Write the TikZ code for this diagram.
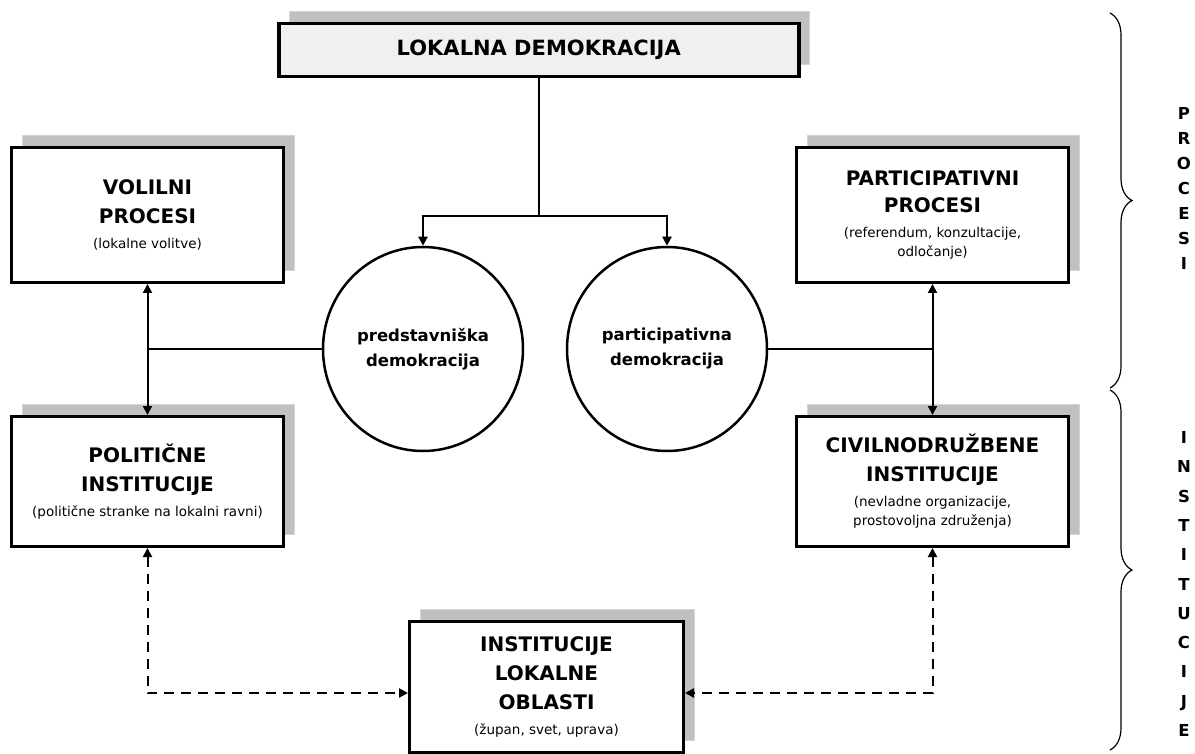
\documentclass[tikz,border=0pt]{standalone}
\usepackage{fontspec}
\setmainfont{DejaVu Sans}
\usetikzlibrary{arrows.meta,shapes.geometric,shadows,decorations.pathreplacing,calc}
\definecolor{shadowfill}{HTML}{C0C0C0}
\definecolor{shadowedge}{HTML}{D4D4D4}
\definecolor{titlefill}{HTML}{F0F0F0}
\newcommand{\boxhead}[1]{{\fontsize{20}{29}\selectfont\bfseries #1}}
\newcommand{\boxnote}[1]{{\fontsize{13.5}{19}\selectfont #1}}

\begin{document}
\begin{tikzpicture}[x=1pt,y=-1pt,
  dropshadow/.style={general shadow={shadow xshift=11pt, shadow yshift=12pt,
      fill=shadowfill, draw=shadowedge, line width=1pt}},
  panel/.style={rectangle, draw=black, line width=3pt, fill=white, dropshadow,
      inner sep=0pt, anchor=north west, align=center,
      font=\fontsize{20}{29}\selectfont},
  circ/.style={ellipse, draw=black, line width=2.5pt, fill=white,
      minimum width=200pt, minimum height=204pt, inner sep=0pt, align=center,
      font=\fontsize{16.5}{25}\selectfont\bfseries},
  wire/.style={line width=2pt},
  arr/.style={wire, -{Triangle[length=9pt,width=9pt]}},
  darr/.style={wire, {Triangle[length=9pt,width=9pt]}-{Triangle[length=9pt,width=9pt]}},
  dashline/.style={dash pattern=on 10pt off 7pt},
  brace/.style={decorate, decoration={brace, amplitude=22pt}, line width=1.2pt},
  side/.style={font=\fontsize{16.5}{25}\selectfont\bfseries, align=center}
]
\fill[white] (0,0) rectangle (1195,754);
\useasboundingbox (0,0) rectangle (1195,754);

% title
\node[panel, fill=titlefill, line width=3.5pt, minimum width=520pt, minimum height=53pt,
      font=\fontsize{21}{25}\selectfont\bfseries] (top) at (277,22) {LOKALNA DEMOKRACIJA};

% process boxes
\node[panel, minimum width=272pt, minimum height=135pt] (vol) at (10,146)
  {\boxhead{VOLILNI}\\\boxhead{PROCESI}\\[-4pt]\boxnote{(lokalne volitve)}};
\node[panel, minimum width=272pt, minimum height=135pt] (pp) at (795,146)
  {\boxhead{PARTICIPATIVNI}\\[-2pt]\boxhead{PROCESI}\\[-4pt]\boxnote{(referendum, konzultacije,}\\[-10pt]\boxnote{odločanje)}};

% institution boxes
\node[panel, minimum width=272pt, minimum height=130pt] (pol) at (10,415)
  {\boxhead{POLITIČNE}\\\boxhead{INSTITUCIJE}\\[-4pt]\boxnote{(politične stranke na lokalni ravni)}};
\node[panel, minimum width=272pt, minimum height=130pt] (civ) at (795,415)
  {\boxhead{CIVILNODRUŽBENE}\\\boxhead{INSTITUCIJE}\\[-4pt]\boxnote{(nevladne organizacije,}\\[-10pt]\boxnote{prostovoljna združenja)}};
\node[panel, minimum width=274pt, minimum height=131pt] (inst) at (408,620)
  {\boxhead{INSTITUCIJE}\\\boxhead{LOKALNE}\\\boxhead{OBLASTI}\\[-4pt]\boxnote{(župan, svet, uprava)}};

% forms of democracy
\node[circ] (pred) at (423,349) {predstavniška\\demokracija};
\node[circ] (partc) at (667,349) {participativna\\demokracija};

% connectors
\coordinate (split) at ($(top.south)+(0,138)$);
\draw[wire] (top.south) -- (split);
\draw[arr] (split) -| (pred.north);
\draw[arr] (split) -| (partc.north);
\draw[darr] (vol.south) -- (pol.north);
\draw[wire] (pred.west) -- (pred.west -| vol.south);
\draw[darr] (pp.south) -- (civ.north);
\draw[wire] (partc.east) -- (partc.east -| pp.south);
\coordinate (instL) at ($(inst.west)+(0,6)$);
\coordinate (instR) at ($(inst.east)+(0,6)$);
\draw[darr, dashline] (pol.south) |- (instL);
\draw[darr, dashline] (civ.south) |- (instR);

% side braces and labels
\draw[brace] (1110,13) -- (1110,388);
\draw[brace] (1110,390) -- (1110,750);
\node[side] (procesi) at (1184,188) {P\\R\\O\\C\\E\\S\\I};
\node[side, font=\fontsize{16.5}{29.3}\selectfont\bfseries] (institucije) at (1184,584)
  {I\\N\\S\\T\\I\\T\\U\\C\\I\\J\\E};
\end{tikzpicture}
\end{document}
